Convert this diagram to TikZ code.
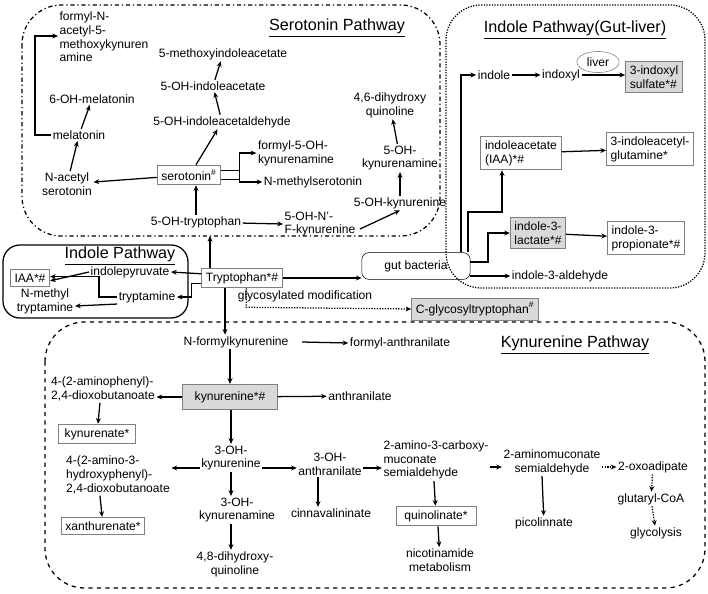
\documentclass[tikz,border=0pt]{standalone}
\usepackage{fontspec}
\setmainfont{Liberation Sans}
\usetikzlibrary{arrows.meta,shapes.geometric}
\tikzset{
  lbl/.style={inner sep=1pt, align=center, font=\fontsize{8.6}{9.8}\selectfont},
  lft/.style={lbl, align=left},
  box/.style={lbl, draw=gray, inner sep=3pt, line width=0.6pt},
  gbox/.style={box, fill=gray!30},
  arr/.style={-{Stealth[length=4pt,width=3.5pt]}, line width=0.9pt},
  darr/.style={arr, densely dotted},
  ttl/.style={font=\fontsize{11.5}{13}\selectfont},
}
\begin{document}
\begin{tikzpicture}[x=0.025cm, y=-0.025cm]
    \useasboundingbox (0,0) rectangle (708,593);

    % pathway frames
    \draw[line width=0.9pt, dash dot, rounded corners=28] (22,5) rectangle (440,236);
    \draw[line width=0.9pt, densely dotted, rounded corners=25] (446,5) rectangle (705,288);
    \draw[line width=0.9pt, rounded corners=12] (3,245) rectangle (188,318);
    \draw[line width=0.9pt, dashed, rounded corners=28] (45,322) rectangle (705,588);
    \node[ttl] at (337,28) {\underline{Serotonin Pathway}};
    \node[ttl] at (575,30) {\underline{Indole Pathway(Gut-liver)}};
    \node[ttl] at (120,256) {\underline{Indole Pathway}};
    \node[ttl] at (575,345) {\underline{Kynurenine Pathway}};

    % serotonin pathway
    \node[lft] (fnak) at (104,37) {formyl-N-\\acetyl-5-\\methoxykynuren\\amine};
    \node[lbl] (ohmel) at (92,99) {6-OH-melatonin};
    \node[lbl] (mel) at (79,135) {melatonin};
    \node[lbl] (nas) at (67,184) {N-acetyl\\serotonin};
    \node[box] (ser) at (189,175) {serotonin\textsuperscript{\#}};
    \node[lbl] (ohald) at (222,122) {5-OH-indoleacetaldehyde};
    \node[lbl] (ohia) at (213,86) {5-OH-indoleacetate};
    \node[lbl] (mia) at (223,54) {5-methoxyindoleacetate};
    \node[lft] (fohk) at (296,153) {formyl-5-OH-\\kynurenamine};
    \node[lbl] (nms) at (313,182) {N-methylserotonin};
    \node[lbl] (dhq) at (390,105) {4,6-dihydroxy\\quinoline};
    \node[lbl] (ohkna) at (400,158) {5-OH-\\kynurenamine};
    \node[lbl] (ohkyn) at (400,203) {5-OH-kynurenine};
    \node[lbl] (ohtrp) at (196,222) {5-OH-tryptophan};
    \node[lft] (ohnf) at (320,224) {5-OH-N'-\\F-kynurenine};

    \draw[arr] (mel.west) -- ++(-16,0) |- (fnak.west |- 0,36);
    \draw[arr] (mel) -- (ohmel);
    \draw[arr] (nas) -- (mel);
    \draw[arr] (ser) -- (nas);
    \draw[arr] (ser.north -| 196,0) -- (ohald);
    \draw[arr] (ohald) -- (ohia);
    \draw[arr] (ohia) -- (mia);
    \draw[arr] ([yshift=-3]ser.east) -- ++(18,0) |- (fohk.west);
    \draw[arr] ([yshift=3]ser.east) -- ++(18,0) |- (nms.west);
    \draw[arr] (ohtrp.north -| 196,0) -- (ser.south -| 196,0);
    \draw[arr] (ohtrp) -- (ohnf.west);
    \draw[arr] (360,229) -- (ohkyn.south);
    \draw[arr] (ohkyn) -- (ohkna);
    \draw[arr] (ohkna) -- (dhq);

    % tryptophan and indole pathway
    \node[box] (trp) at (242,278) {Tryptophan*\#};
    \node[box] (iaa) at (30,278) {IAA*\#};
    \node[lbl] (ipy) at (130,272) {indolepyruvate};
    \node[lbl] (nmt) at (45,301) {N-methyl\\tryptamine};
    \node[lbl] (tam) at (147,297) {tryptamine};
    \coordinate (serin) at (210,236);

    \draw[arr] (trp.north -| serin) -- (serin);
    \draw[arr] ([yshift=3]trp.west) -- (ipy.east);
    \draw[arr] ([yshift=-4]trp.west) -- ++(-10,0) |- (tam.east);
    \draw[arr] (ipy.west) -- ([yshift=-2]iaa.east);
    \draw[arr] (tam.west) -- ++(-18,0) |- ([yshift=1]iaa.east);
    \draw[arr] ([yshift=-5]tam.west) -- (75,306);

    % gut-liver
    \node[lbl, draw, rounded corners=5, minimum width=77pt, minimum height=19pt] (gut) at (416,266) {gut bacteria};
    \node[gbox] (cgly) at (475,309) {C-glycosyltryptophan\textsuperscript{\#}};
    \node[lbl] (glyl) at (305,296) {glycosylated modification};
    \node[lbl] (ind) at (494,75) {indole};
    \node[lbl] (inx) at (561,75) {indoxyl};
    \node[lbl, draw=gray, ellipse, inner sep=0pt, minimum width=30pt, minimum height=15pt] (liver) at (598,62) {liver};
    \node[gbox, align=left] (ins) at (654,77) {3-indoxyl\\sulfate*\#};
    \node[box, align=left] (ia) at (521,153) {indoleacetate\\(IAA)*\#};
    \node[box, align=left] (iag) at (650,149) {3-indoleacetyl-\\glutamine*};
    \node[gbox, align=left] (ila) at (538,233) {indole-3-\\lactate*\#};
    \node[box, align=left] (ipr) at (646,238) {indole-3-\\propionate*\#};
    \node[lbl] (iald) at (560,276) {indole-3-aldehyde};

    \draw[arr] (trp.east) -- (gut.west |- trp.east);
    \draw[darr] ([xshift=3]trp.south) -- ++(0,19) -- (cgly.west);
    \draw[arr] (gut.north -| 461,0) |- (ind.west);
    \draw[arr] (ind) -- (inx);
    \draw[arr] (inx) -- (ins.west |- inx);
    \draw[arr] (gut.north -| 468,0) -- (468,212) -| (ia.south -| 502,0);
    \draw[arr] (gut.east |- 0,262) -- (488,262) |- (ila.west);
    \draw[arr] (ia) -- (iag);
    \draw[arr] (ila) -- (ipr);
    \draw[arr] (gut.east |- iald) -- (iald.west);

    % kynurenine pathway
    \node[lbl] (nfk) at (236,342) {N-formylkynurenine};
    \node[lbl] (fan) at (400,343) {formyl-anthranilate};
    \node[gbox, minimum width=67pt, minimum height=18pt] (kyn) at (230,397) {kynurenine*\#};
    \node[lbl] (ant) at (360,396) {anthranilate};
    \node[lft] (apd) at (103,389) {4-(2-aminophenyl)-\\2,4-dioxobutanoate};
    \node[box, minimum width=55pt] (kya) at (97,434) {kynurenate*};
    \node[lbl] (ohk) at (231,458) {3-OH-\\kynurenine};
    \node[lft] (ahd) at (118,475) {4-(2-amino-3-\\hydroxyphenyl)-\\2,4-dioxobutanoate};
    \node[box, minimum width=58pt] (xan) at (103,526) {xanthurenate*};
    \node[lbl] (oha) at (330,464) {3-OH-\\anthranilate};
    \node[lft] (acm) at (436,460) {2-amino-3-carboxy-\\muconate\\semialdehyde};
    \node[lbl] (ams) at (552,462) {2-aminomuconate\\semialdehyde};
    \node[lbl] (oxa) at (653,467) {2-oxoadipate};
    \node[lbl] (gcoa) at (651,499) {glutaryl-CoA};
    \node[lbl] (gly) at (656,533) {glycolysis};
    \node[lbl] (ohkm) at (237,510) {3-OH-\\kynurenamine};
    \node[lbl] (cin) at (331,513) {cinnavalininate};
    \node[box, minimum width=57pt] (qui) at (436,516) {quinolinate*};
    \node[lbl] (pic) at (544,523) {picolinnate};
    \node[lbl] (dhq8) at (235,564) {4,8-dihydroxy-\\quinoline};
    \node[lbl] (nic) at (440,560) {nicotinamide\\metabolism};

    \draw[arr] (trp.south -| 225,0) -- (nfk.north -| 225,0);
    \draw[arr] (nfk.south -| kyn.north) -- (kyn.north);
    \draw[arr] (302,342) -- (fan.west);
    \draw[arr] (kyn) -- (ant);
    \draw[arr] (kyn) -- (apd.east |- kyn);
    \draw[arr] (apd.south -| 100,0) -- (kya);
    \draw[arr] (kyn.south -| 231,0) -- (ohk.north);
    \draw[arr] (ohk.west |- 0,468) -- (ahd.east |- 0,468);
    \draw[arr] (ahd.south -| 100,0) -- (xan);
    \draw[arr] (ohk.east |- 0,468) -- (oha.west |- 0,468);
    \draw[arr] (oha.east |- 0,468) -- (acm.west |- 0,468);
    \draw[arr] (ohk.south -| 231,0) -- (ohkm.north -| 231,0);
    \draw[arr] (ohkm.south -| 231,0) -- (dhq8.north -| 231,0);
    \draw[arr] (oha.south -| 318,0) -- (cin.north -| 318,0);
    \draw[arr] (acm.south -| 434,0) -- (qui);
    \draw[arr] (qui.south -| 438,0) -- (nic);
    \draw[arr] (acm.east |- 0,467) -- (ams.west |- 0,467);
    \draw[arr] (ams.south -| 542,0) -- (pic);
    \draw[darr] (ams.east |- oxa) -- (oxa);
    \draw[darr] (oxa) -- (gcoa);
    \draw[darr] (gcoa) -- (gly);
\end{tikzpicture}
\end{document}
